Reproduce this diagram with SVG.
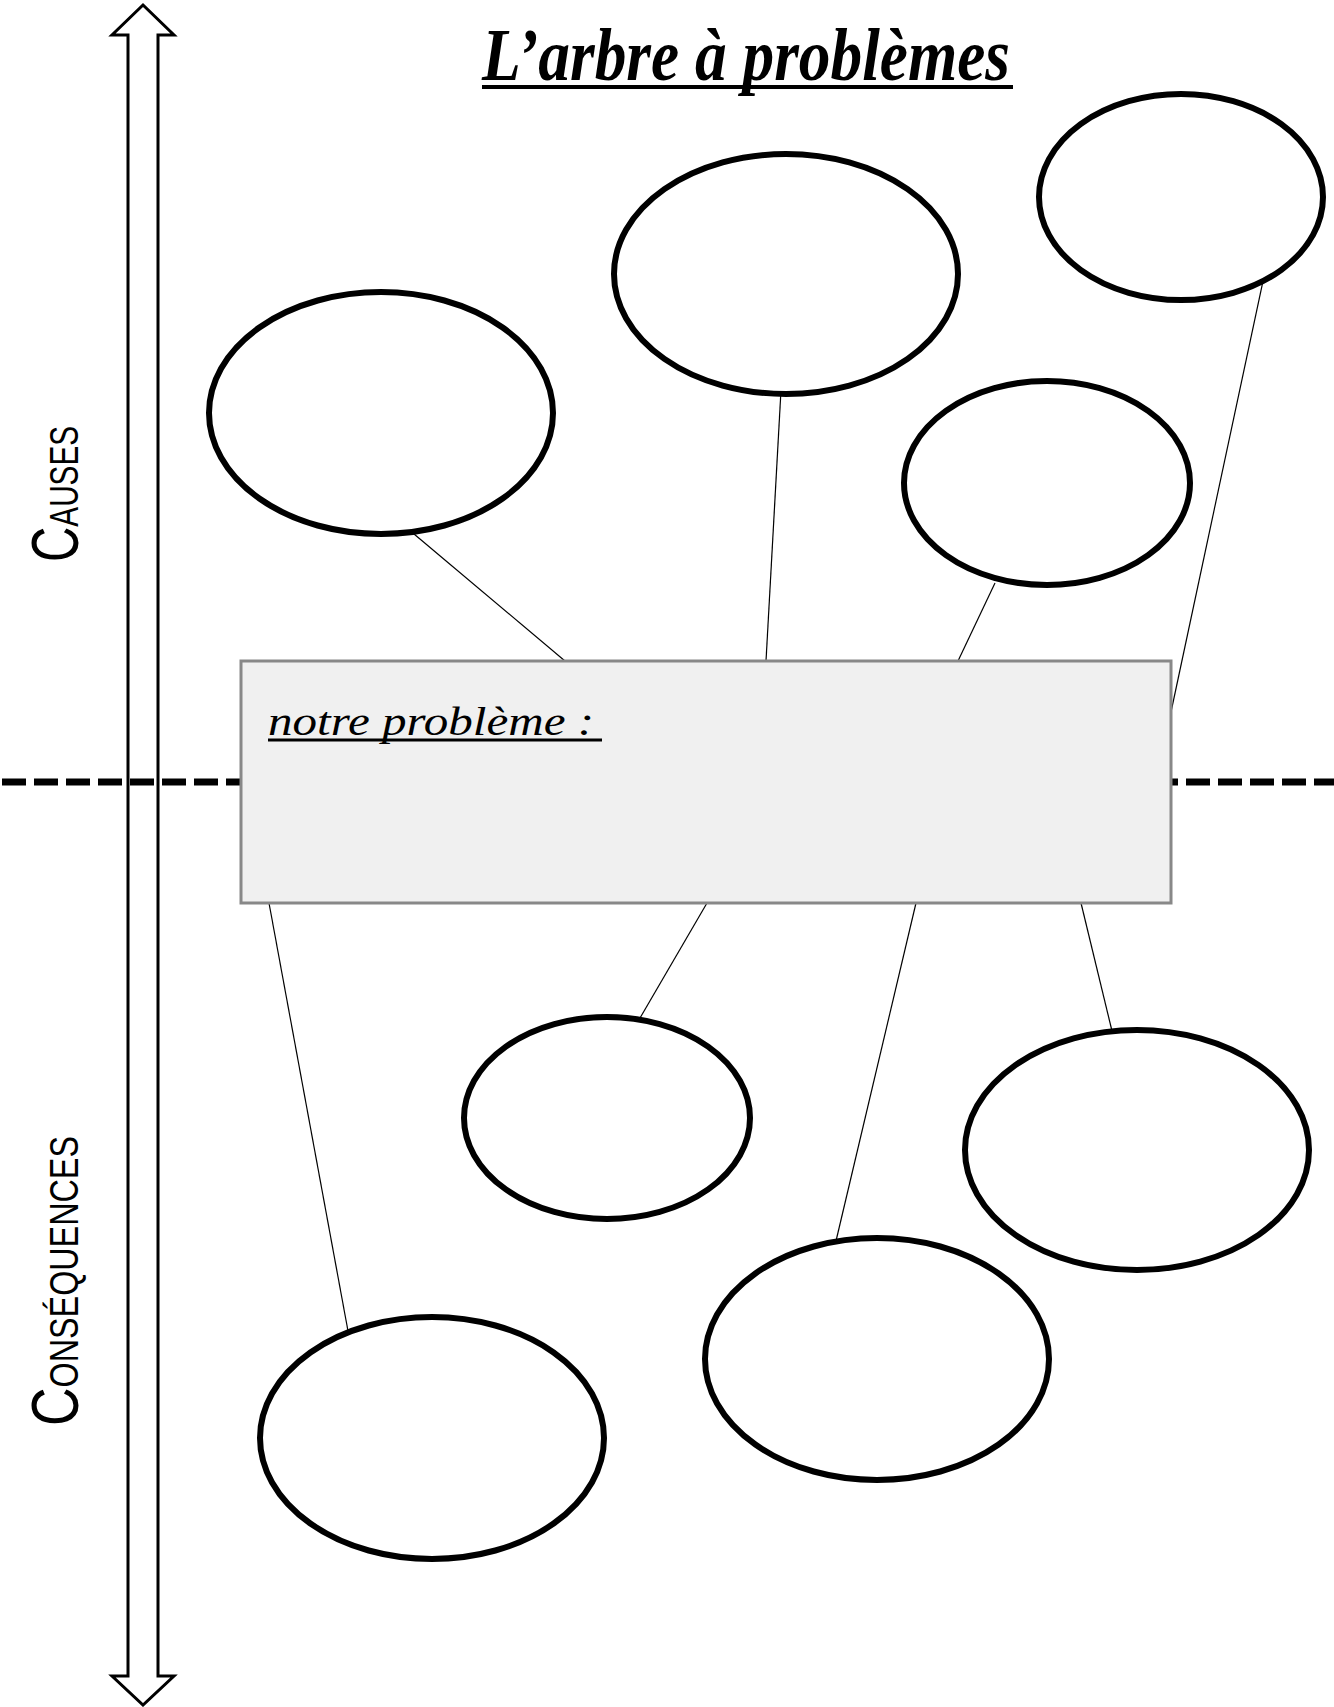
<svg xmlns="http://www.w3.org/2000/svg" width="1334" height="1707" viewBox="0 0 1334 1707">
<style>
.bubble{fill:#ffffff;stroke:#000000;stroke-width:6}
.conn{stroke:#000000;stroke-width:1.2;fill:none}
.side{font-family:"Liberation Sans","DejaVu Sans",sans-serif;fill:#000000}
.script{font-family:"Liberation Serif","DejaVu Serif",serif;font-style:italic;fill:#000000}
</style>
<rect x="0" y="0" width="1334" height="1707" fill="#ffffff"/>
<g id="axis">
<line x1="2" y1="782" x2="1334" y2="782" stroke="#000000" stroke-width="7" stroke-dasharray="24 8"/>
<polygon points="143,5 174,35 158,35 158,1676 174,1676 143,1705 112,1676 128,1676 128,35 112,35" fill="none" stroke="#000000" stroke-width="3" stroke-linejoin="miter"/>
</g>
<g id="title">
<text class="script" x="482" y="80" font-size="74" font-weight="bold" textLength="528" lengthAdjust="spacingAndGlyphs">L’arbre à problèmes</text>
<line x1="482" y1="87" x2="1013" y2="87" stroke="#000000" stroke-width="4"/>
</g>
<g id="labels">
<text class="side" transform="translate(78,562) rotate(-90)" textLength="136" lengthAdjust="spacingAndGlyphs"><tspan font-size="66">C</tspan><tspan font-size="40">AUSES</tspan></text>
<text class="side" transform="translate(78,1426) rotate(-90)" textLength="290" lengthAdjust="spacingAndGlyphs"><tspan font-size="66">C</tspan><tspan font-size="40">ONSÉQUENCES</tspan></text>
</g>
<g id="connectors">
<line class="conn" x1="414" y1="534" x2="565" y2="661"/>
<line class="conn" x1="781" y1="390" x2="766" y2="661"/>
<line class="conn" x1="995" y1="583" x2="958" y2="661"/>
<line class="conn" x1="1269" y1="253" x2="1171" y2="712"/>
<line class="conn" x1="269" y1="903" x2="348" y2="1331"/>
<line class="conn" x1="707" y1="903" x2="640" y2="1018"/>
<line class="conn" x1="916" y1="903" x2="836" y2="1241"/>
<line class="conn" x1="1081" y1="903" x2="1112" y2="1031"/>
</g>
<g id="problem">
<rect x="241" y="661" width="930" height="242" fill="#f0f0f0" stroke="#888888" stroke-width="3"/>
<text class="script" x="268" y="735" font-size="40" textLength="326" lengthAdjust="spacingAndGlyphs">notre problème :</text>
<line x1="268" y1="740" x2="602" y2="740" stroke="#000000" stroke-width="3"/>
</g>
<g id="cause1"><ellipse class="bubble" cx="381" cy="413" rx="172" ry="121"/></g>
<g id="cause2"><ellipse class="bubble" cx="786" cy="274" rx="172" ry="120"/></g>
<g id="cause3"><ellipse class="bubble" cx="1181" cy="197" rx="142" ry="103"/></g>
<g id="cause4"><ellipse class="bubble" cx="1047" cy="483" rx="143" ry="102"/></g>
<g id="consequence1"><ellipse class="bubble" cx="607" cy="1118" rx="143" ry="101"/></g>
<g id="consequence2"><ellipse class="bubble" cx="1137" cy="1150" rx="172" ry="120"/></g>
<g id="consequence3"><ellipse class="bubble" cx="877" cy="1359" rx="172" ry="121"/></g>
<g id="consequence4"><ellipse class="bubble" cx="432" cy="1438" rx="172" ry="121"/></g>
</svg>
